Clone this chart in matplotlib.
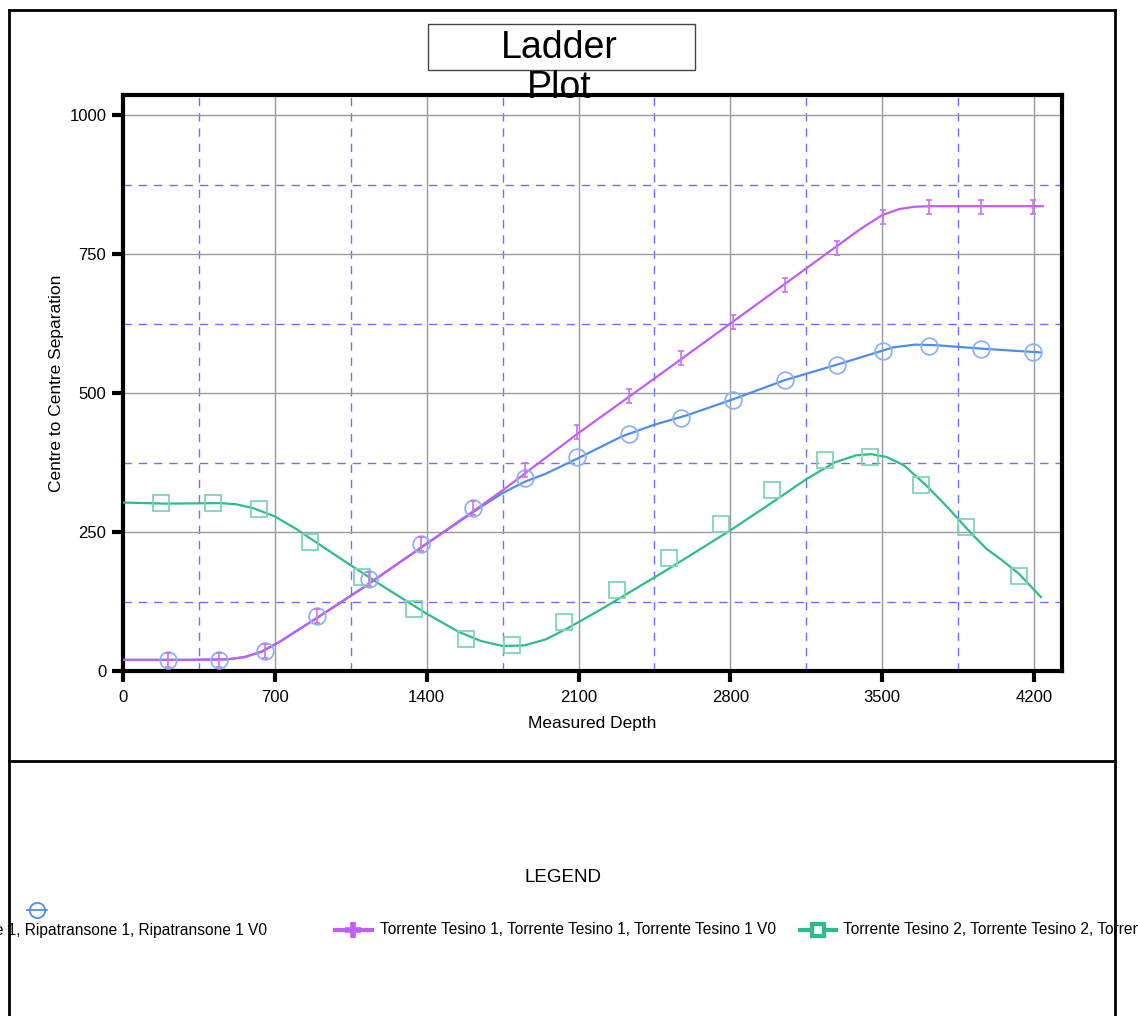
import matplotlib
matplotlib.use("Agg")
import matplotlib.pyplot as plt
from matplotlib.lines import Line2D
from matplotlib.patches import Rectangle
from matplotlib.path import Path
from matplotlib.ticker import FixedLocator

plt.rcParams['font.family'] = ['Liberation Sans', 'DejaVu Sans']

# ---------------- data ----------------
x_ticks = [0, 700, 1400, 2100, 2800, 3500, 4200]
y_ticks = [0, 250, 500, 750, 1000]
x_minor = [350, 1050, 1750, 2450, 3150, 3850]
y_minor = [125, 375, 625, 875]

series_names = ["Ripatransone 1, Ripatransone 1, Ripatransone 1 V0",
                "Torrente Tesino 1, Torrente Tesino 1, Torrente Tesino 1 V0",
                "Torrente Tesino 2, Torrente Tesino 2, Torrente Tesino 2 V0"]

# marker stations
depth_markers = [207, 443, 655, 894, 1134, 1374, 1614, 1853, 2093, 2333, 2573, 2812,
                 3052, 3292, 3504, 3716, 3956, 4196]
ripa_markers = [20, 20, 36, 99, 165, 229, 294, 347, 385, 426, 455, 487,
                523, 550, 576, 585, 579, 574]
tt1_markers = [20, 20, 36, 99, 165, 229, 294, 362, 430, 495, 563, 628,
               694, 761, 817, 835, 835, 835]
tt2_depth_markers = [175, 415, 627, 862, 1102, 1342, 1581, 1793, 2033, 2278, 2517, 2757,
                     2992, 3237, 3444, 3679, 3887, 4131]
tt2_markers = [302, 302, 291, 232, 169, 112, 58, 47, 88, 146, 203, 264,
               326, 380, 385, 335, 259, 171]

# curve traces
ripa_line_x = [0, 300, 480, 560, 640, 720, 800, 900, 1100, 1400, 1650, 1750, 1850, 1950,
               2100, 2300, 2450, 2600, 2800, 3050, 3300, 3450, 3550, 3650, 3750, 3950, 4230]
ripa_line_y = [20, 20, 21, 25, 35, 52, 72, 97, 148, 229, 295, 320, 340, 355,
               383, 422, 443, 460, 487, 523, 552, 570, 582, 587, 586, 580, 573]

tt1_line_x = [0, 300, 480, 560, 640, 720, 800, 900, 1100, 1400, 1650, 1750, 2100, 2400,
              2800, 3100, 3400, 3500, 3580, 3650, 3720, 4240]
tt1_line_y = [20, 20, 21, 25, 35, 52, 72, 97, 148, 229, 297, 325, 428, 512,
              625, 710, 795, 820, 831, 835, 836, 836]

tt2_line_x = [0, 200, 450, 520, 600, 700, 800, 1000, 1200, 1400, 1550, 1650, 1750, 1850,
              1950, 2050, 2200, 2500, 2800, 3000, 3150, 3280, 3380, 3450, 3520, 3600,
              3700, 3800, 3900, 3980, 4050, 4130, 4232]
tt2_line_y = [303, 301, 302, 300, 293, 278, 255, 203, 152, 103, 70, 54, 45, 46,
              57, 77, 110, 180, 253, 305, 345, 375, 388, 390, 385, 370,
              335, 295, 252, 220, 200, 175, 133]

# ---------------- style ----------------
W, H = 1138, 1016
BLUE = "#4f8cef"
BLUE_M = "#8db3f6"
PURPLE = "#c25cf6"
PURPLE_M = "#cc70f5"
GREEN = "#2dbd87"
GREEN_M = "#7fd6ae"

def fx(x):
    return x / W

def fy(y):
    return 1 - y / H

fig = plt.figure(figsize=(W / 100, H / 100), dpi=100)

ax = fig.add_axes([fx(123), fy(671), (1062 - 123) / W, (671 - 95) / H])
ax.set_xlim(0, 4329)
ax.set_ylim(0, 1036)

ax.xaxis.set_major_locator(FixedLocator(x_ticks))
ax.yaxis.set_major_locator(FixedLocator(y_ticks))
ax.xaxis.set_minor_locator(FixedLocator(x_minor))
ax.yaxis.set_minor_locator(FixedLocator(y_minor))
ax.grid(which='major', color='#9a9a9a', lw=1.0, ls='-')
ax.grid(which='minor', color='#6e6eff', lw=1.0, ls=(0, (6, 5)))
ax.set_axisbelow(True)
ax.tick_params(which='minor', length=0)
ax.tick_params(which='major', direction='out', length=8, width=3, labelsize=12, color='black')
ax.tick_params(axis='x', pad=6)
ax.tick_params(axis='y', pad=4)
for s in ax.spines.values():
    s.set_linewidth(3)
    s.set_color('black')

ax.set_xlabel("Measured Depth", fontsize=12.5)
ax.set_ylabel("Centre to Centre Separation", fontsize=12.5)
ax.xaxis.set_label_coords(0.5, (671 - 716) / 576)
ax.yaxis.set_label_coords((64 - 123) / 939, 0.5)

# lines
ax.plot(ripa_line_x, ripa_line_y, color=BLUE, lw=1.6, zorder=3)
ax.plot(tt2_line_x, tt2_line_y, color=GREEN, lw=1.6, zorder=3)
ax.plot(tt1_line_x, tt1_line_y, color=PURPLE, lw=1.6, zorder=4)

# markers
ibar = Path([(0, -1), (0, 1), (-0.45, 1), (0.45, 1), (-0.45, -1), (0.45, -1)],
            [Path.MOVETO, Path.LINETO, Path.MOVETO, Path.LINETO, Path.MOVETO, Path.LINETO])
ax.plot(depth_markers, ripa_markers, ls='none', marker='o', ms=12, mfc='none',
        mec=BLUE_M, mew=1.3, zorder=5)
ax.plot(tt2_depth_markers, tt2_markers, ls='none', marker='s', ms=12, mfc='none',
        mec=GREEN_M, mew=1.3, zorder=5)
ax.plot(depth_markers, tt1_markers, ls='none', marker=ibar, ms=10, mfc='none',
        mec=PURPLE_M, mew=1.2, zorder=6)

# ---------------- frame & title ----------------
def fline(xs, ys, **kw):
    fig.add_artist(Line2D([fx(v) for v in xs], [fy(v) for v in ys],
                          transform=fig.transFigure, **kw))

fline([9, 1115], [10, 10], color='black', lw=2)
fline([9, 9], [10, 1016], color='black', lw=2)
fline([1115, 1115], [10, 1016], color='black', lw=2)
fline([9, 1115], [761, 761], color='black', lw=2)

fig.add_artist(Rectangle((fx(428), fy(70)), (695 - 428) / W, (70 - 24) / H,
                         transform=fig.transFigure, fill=False, ec='#444444', lw=1))
fig.text(fx(559), fy(68), "Ladder\nPlot", ha='center', va='center', fontsize=27,
         linespacing=1.12, multialignment='center')

# ---------------- legend ----------------
fig.text(fx(563), fy(877), "LEGEND", ha='center', va='center', fontsize=13.5)

fline([27, 37, 47], [910, 910, 910], color=BLUE, lw=1.3, marker='o', markevery=[1],
      ms=11, mfc='none', mec=BLUE, mew=1.3)
fig.text(fx(267), fy(930), series_names[0], ha='right', va='center', fontsize=11.2)

fline([335, 353, 372], [930, 930, 930], color=PURPLE, lw=3, marker='+', markevery=[1],
      ms=12, mec=PURPLE, mew=4)
fig.text(fx(380), fy(930), series_names[1], ha='left', va='center', fontsize=11.2)

fline([800, 818, 836], [930, 930, 930], color=GREEN, lw=3, marker='s', markevery=[1],
      ms=9, mfc='white', mec=GREEN, mew=3)
fig.text(fx(843), fy(930), series_names[2], ha='left', va='center', fontsize=11.2)

fig.savefig("out.png", dpi=100)
